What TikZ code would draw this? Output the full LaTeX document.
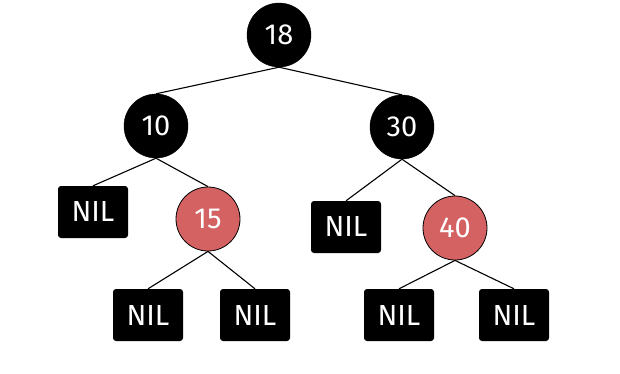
\documentclass[tikz,border=0pt]{standalone}
\usepackage{fontspec}
\setmainfont{Fira Sans}
\usepackage{tikz}
\definecolor{rbred}{HTML}{D46262}

\tikzset{
  blacknode/.style={circle,fill=black,draw=black,minimum size=64,inner sep=0,
    text=white,font=\fontsize{29}{29}\selectfont},
  rednode/.style={circle,fill=rbred,draw=black,line width=0.8pt,minimum size=64,inner sep=0,
    text=white,font=\fontsize{29}{29}\selectfont},
  nilnode/.style={rectangle,rounded corners=3,fill=black,minimum width=70,minimum height=52,
    inner sep=0,text=white,font=\fontsize{29}{29}\selectfont},
  treeedge/.style={draw=black,line width=1.1pt}
}

\begin{document}
\begin{tikzpicture}[x=1pt,y=-1pt]
  \useasboundingbox (0,0) rectangle (620,373);
  \node[blacknode] (n18) at (279,35)  {18};
  \node[blacknode] (n10) at (156,126) {10};
  \node[blacknode] (n30) at (402,127) {30};
  \node[nilnode]   (nil1) at (93,212)  {NIL};
  \node[rednode]   (n15) at (208,219) {15};
  \node[nilnode]   (nil2) at (346,227) {NIL};
  \node[rednode]   (n40) at (455,228) {40};
  \node[nilnode]   (nil3) at (148,315) {NIL};
  \node[nilnode]   (nil4) at (255,315) {NIL};
  \node[nilnode]   (nil5) at (399,315) {NIL};
  \node[nilnode]   (nil6) at (514,315) {NIL};
  % edges
  \foreach \pp/\cc in {n18/n10,n18/n30,n10/nil1,n10/n15,n30/nil2,n30/n40,
                       n15/nil3,n15/nil4,n40/nil5,n40/nil6}
    \draw[treeedge] (\pp.south) -- (\cc.north);
\end{tikzpicture}
\end{document}
